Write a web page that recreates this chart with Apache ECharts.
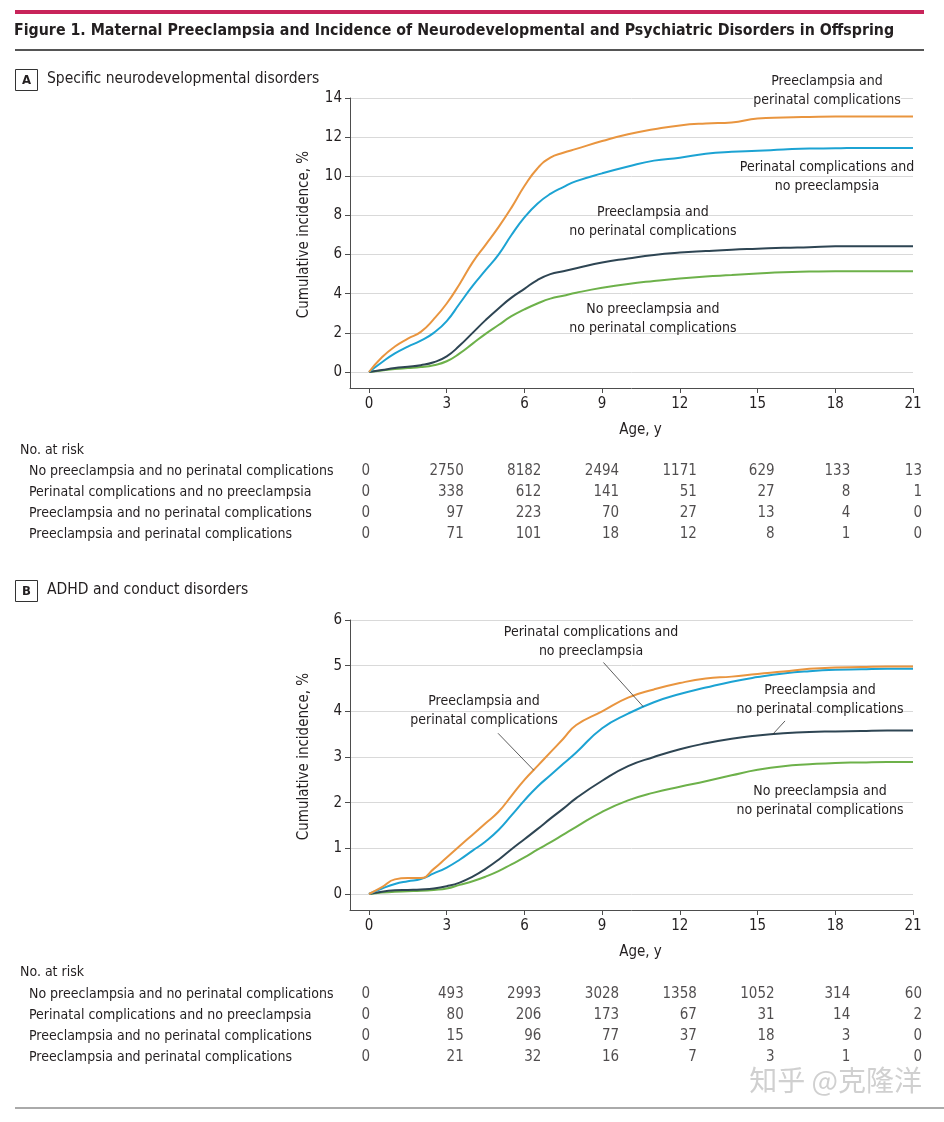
<!DOCTYPE html>
<html>
<head>
<meta charset="utf-8">
<script src="https://cdn.jsdelivr.net/npm/echarts@6/dist/echarts.min.js"></script>
<style>
html,body{margin:0;padding:0;background:#fff;}
#chart{width:944px;height:1122px;}
</style>
</head>
<body>
<div id="chart"></div>
<script>
// ---------- data ----------
const ages = [0,0.5,1,1.5,2,2.5,3,3.5,4,4.5,5,5.5,6,6.5,7,7.5,8,9,10,11,12,13,14,15,16,17,18,19,20,21];

// Panel A: specific neurodevelopmental disorders (cumulative incidence, %)
const aPEandPC   = [0,0.75,1.3,1.7,2.05,2.7,3.5,4.5,5.6,6.5,7.4,8.4,9.5,10.4,10.95,11.2,11.4,11.8,12.15,12.4,12.6,12.7,12.75,12.95,13.0,13.03,13.05,13.05,13.05,13.05];
const aPCnoPE    = [0,0.5,0.95,1.3,1.6,2.0,2.6,3.5,4.4,5.2,6.0,7.0,7.9,8.6,9.1,9.45,9.75,10.15,10.5,10.8,10.95,11.15,11.25,11.3,11.37,11.42,11.43,11.45,11.45,11.45];
const aPEnoPC    = [0,0.1,0.2,0.27,0.35,0.5,0.8,1.35,2.0,2.65,3.25,3.8,4.25,4.7,5.0,5.15,5.3,5.6,5.8,5.98,6.1,6.18,6.25,6.3,6.35,6.38,6.42,6.42,6.42,6.42];
const aNoPEnoPC  = [0,0.08,0.15,0.2,0.25,0.35,0.55,0.95,1.45,1.95,2.4,2.85,3.2,3.5,3.75,3.9,4.05,4.3,4.5,4.65,4.78,4.88,4.95,5.03,5.1,5.13,5.15,5.15,5.15,5.15];

// Panel B: ADHD and conduct disorders
const bPEandPC   = [0,0.15,0.32,0.35,0.35,0.55,0.8,1.05,1.3,1.55,1.8,2.15,2.5,2.8,3.1,3.4,3.7,4.0,4.3,4.48,4.62,4.72,4.76,4.82,4.87,4.93,4.96,4.97,4.98,4.98];
const bPCnoPE    = [0,0.12,0.22,0.28,0.33,0.45,0.58,0.75,0.95,1.15,1.4,1.72,2.05,2.35,2.6,2.85,3.1,3.63,3.95,4.2,4.38,4.52,4.65,4.75,4.83,4.88,4.91,4.92,4.93,4.93];
const bPEnoPC    = [0,0.05,0.08,0.09,0.1,0.12,0.17,0.25,0.38,0.55,0.75,0.98,1.2,1.42,1.65,1.87,2.1,2.48,2.8,3.0,3.17,3.3,3.4,3.47,3.52,3.55,3.56,3.57,3.58,3.58];
const bNoPEnoPC  = [0,0.03,0.05,0.06,0.07,0.09,0.12,0.2,0.28,0.38,0.5,0.65,0.8,0.97,1.13,1.3,1.47,1.8,2.05,2.22,2.35,2.47,2.6,2.72,2.8,2.84,2.87,2.88,2.89,2.89];

// tick labels
const xTicks  = [0,3,6,9,12,15,18,21];
const yTicksA = [0,2,4,6,8,10,12,14];
const yTicksB = [0,1,2,3,4,5,6];

// No. at risk
const groupNames = [
  'No preeclampsia and no perinatal complications',
  'Perinatal complications and no preeclampsia',
  'Preeclampsia and no perinatal complications',
  'Preeclampsia and perinatal complications'
];
const riskA_NoPEnoPC = [0,2750,8182,2494,1171,629,133,13];
const riskA_PCnoPE   = [0,338,612,141,51,27,8,1];
const riskA_PEnoPC   = [0,97,223,70,27,13,4,0];
const riskA_PEandPC  = [0,71,101,18,12,8,1,0];
const riskB_NoPEnoPC = [0,493,2993,3028,1358,1052,314,60];
const riskB_PCnoPE   = [0,80,206,173,67,31,14,2];
const riskB_PEnoPC   = [0,15,96,77,37,18,3,0];
const riskB_PEandPC  = [0,21,32,16,7,3,1,0];

// ---------- style ----------
const FONT = '"DejaVu Sans Condensed","Liberation Sans Narrow",sans-serif';
const TXT = '#231f20';
const C_ORANGE = '#E9953F', C_BLUE = '#1CA3D3', C_DARK = '#2E4553', C_GREEN = '#6DB14A';
const X_MIN = -0.7334, X_MAX = 21;
const NOTE_SIZE = 14;

const chart = echarts.init(document.getElementById('chart'), null, {renderer:'canvas'});

function zip(xs, ys){ return xs.map((x,i)=>[x, ys[i]]); }

function mainX(gi){
  return {
    type:'value', gridIndex:gi, min:X_MIN, max:X_MAX,
    name:'Age, y', nameLocation:'middle', nameGap:35,
    nameTextStyle:{fontFamily:FONT, fontSize:15, color:TXT, padding:[0,0,0,18]},
    axisLine:{show:true, onZero:false, lineStyle:{color:'#4d4d4d', width:1}},
    axisTick:{show:true, length:5, customValues:xTicks, lineStyle:{color:'#4d4d4d'}},
    axisLabel:{customValues:xTicks, margin:9, fontFamily:FONT, fontSize:15, color:TXT},
    splitLine:{show:false}
  };
}
function mainY(gi, min, max, ticks){
  return {
    type:'value', gridIndex:gi, min:min, max:max,
    name:'Cumulative incidence, %', nameLocation:'middle', nameGap:38,
    nameTextStyle:{fontFamily:FONT, fontSize:15, color:TXT, padding:[0,0,0,17]},
    axisLine:{show:true, onZero:false, lineStyle:{color:'#4d4d4d', width:1}},
    axisTick:{show:true, length:5, customValues:ticks, lineStyle:{color:'#4d4d4d'}},
    axisLabel:{customValues:ticks, margin:8, fontFamily:FONT, fontSize:15, color:TXT},
    splitLine:{show:true, lineStyle:{color:'#d9d9d9', width:1}}
  };
}
function tableX(gi){
  return {type:'value', gridIndex:gi, min:X_MIN, max:X_MAX, show:false};
}
function tableY(gi){
  return {
    type:'category', gridIndex:gi, data:groupNames, inverse:true,
    axisLine:{show:false}, axisTick:{show:false}, splitLine:{show:false},
    axisLabel:{align:'left', margin:321, fontFamily:FONT, fontSize:14, color:TXT}
  };
}
function riskSeries(gi, rows){
  const data = [];
  rows.forEach((row, r)=>{
    row.forEach((n, c)=>{
      const off = c===0 ? 1 : (c===xTicks.length-1 ? 9 : (c===xTicks.length-2 ? 15 : 17));
      data.push({value:[xTicks[c], r, n], label:{offset:[off,0]}});
    });
  });
  return {
    type:'scatter', xAxisIndex:gi, yAxisIndex:gi, symbolSize:1,
    itemStyle:{color:'rgba(0,0,0,0)'}, silent:true,
    label:{show:true, position:'inside', align:'right', fontFamily:FONT, fontSize:15, color:TXT,
      formatter:p=>String(p.value[2])},
    data:data
  };
}
function lineSeries(gi, ys, color, name, extra){
  return Object.assign({
    type:'line', name:name, xAxisIndex:gi, yAxisIndex:gi,
    data:zip(ages, ys), showSymbol:false, smooth:0.5,
    lineStyle:{color:color, width:2}, itemStyle:{color:color}, z:3
  }, extra||{});
}
function note(coord, text){
  return {coord:coord, symbolSize:0,
    label:{show:true, position:'inside', formatter:text, fontFamily:FONT, fontSize:NOTE_SIZE,
      color:TXT, lineHeight:19, align:'center'}};
}
function mp(list){ return {symbol:'circle', symbolSize:0, silent:true, data:list}; }
function leader(a, b){
  return {symbol:'none', silent:true, label:{show:false},
    lineStyle:{color:'#333', width:0.8, type:'solid'},
    data:[[{coord:a},{coord:b}]]};
}

const decor = [
  {type:'rect', shape:{x:15, y:10, width:909, height:4}, style:{fill:'#C8245A'}},
  {type:'rect', shape:{x:15, y:49, width:909, height:2}, style:{fill:'#555'}},
  {type:'rect', shape:{x:15, y:1107, width:929, height:2}, style:{fill:'#aaa'}}
];

const option = {
  animation:false,
  backgroundColor:'#fff',
  textStyle:{fontFamily:FONT},
  title:[
    {text:'Figure 1. Maternal Preeclampsia and Incidence of Neurodevelopmental and Psychiatric Disorders in Offspring',
     left:14, top:23, padding:0, textStyle:{fontFamily:FONT, fontSize:15.8, fontWeight:'bold', color:'#231f20'}},
    {text:'A', left:15, top:69, padding:[5,7,4,7], borderColor:'#333', borderWidth:1,
     textStyle:{fontFamily:FONT, fontSize:13, fontWeight:'bold', color:TXT}},
    {text:'Specific neurodevelopmental disorders', left:47, top:71, padding:0,
     textStyle:{fontFamily:FONT, fontSize:15.5, fontWeight:'normal', color:TXT}},
    {text:'No. at risk', left:20, top:443, padding:0,
     textStyle:{fontFamily:FONT, fontSize:14, fontWeight:'normal', color:TXT}},
    {text:'B', left:15, top:580, padding:[5,7,4,7], borderColor:'#333', borderWidth:1,
     textStyle:{fontFamily:FONT, fontSize:13, fontWeight:'bold', color:TXT}},
    {text:'ADHD and conduct disorders', left:47, top:582, padding:0,
     textStyle:{fontFamily:FONT, fontSize:15.5, fontWeight:'normal', color:TXT}},
    {text:'No. at risk', left:20, top:965, padding:0,
     textStyle:{fontFamily:FONT, fontSize:14, fontWeight:'normal', color:TXT}},
    {text:'知乎 @克隆洋', right:22, top:1066, padding:0,
     textStyle:{fontFamily:'"Noto Sans CJK SC",sans-serif', fontSize:28, fontWeight:'normal', color:'#d0d0d0'}}
  ],
  graphic:decor,
  grid:[
    {left:350, right:31, top:98, height:290},
    {left:350, right:31, top:460.5, height:84},
    {left:350, right:31, top:620, height:290},
    {left:350, right:31, top:983.5, height:84}
  ],
  xAxis:[mainX(0), tableX(1), mainX(2), tableX(3)],
  yAxis:[mainY(0, -0.8175, 14, yTicksA), tableY(1), mainY(2, -0.3504, 6, yTicksB), tableY(3)],
  series:[
    lineSeries(0, aNoPEnoPC, C_GREEN, 'No preeclampsia and no perinatal complications',
      {markPoint:mp([note([10.96, 2.73], 'No preeclampsia and\nno perinatal complications')])}),
    lineSeries(0, aPEnoPC, C_DARK, 'Preeclampsia and no perinatal complications',
      {markPoint:mp([note([10.96, 7.69], 'Preeclampsia and\nno perinatal complications')])}),
    lineSeries(0, aPCnoPE, C_BLUE, 'Perinatal complications and no preeclampsia',
      {markPoint:mp([note([17.68, 9.99], 'Perinatal complications and\nno preeclampsia')])}),
    lineSeries(0, aPEandPC, C_ORANGE, 'Preeclampsia and perinatal complications'),

    riskSeries(1, [riskA_NoPEnoPC, riskA_PCnoPE, riskA_PEnoPC, riskA_PEandPC]),

    lineSeries(2, bNoPEnoPC, C_GREEN, 'No preeclampsia and no perinatal complications',
      {markPoint:mp([note([17.41, 2.03], 'No preeclampsia and\nno perinatal complications')])}),
    lineSeries(2, bPEnoPC, C_DARK, 'Preeclampsia and no perinatal complications',
      {markPoint:mp([note([17.41, 4.26], 'Preeclampsia and\nno perinatal complications')]),
       markLine:leader([16.06, 3.79], [15.59, 3.50])}),
    lineSeries(2, bPCnoPE, C_BLUE, 'Perinatal complications and no preeclampsia',
      {markPoint:mp([note([8.57, 5.52], 'Perinatal complications and\nno preeclampsia')]),
       markLine:leader([9.05, 5.07], [10.59, 4.10])}),
    lineSeries(2, bPEandPC, C_ORANGE, 'Preeclampsia and perinatal complications',
      {markPoint:mp([note([4.44, 4.02], 'Preeclampsia and\nperinatal complications')]),
       markLine:leader([4.98, 3.52], [6.36, 2.71])}),

    riskSeries(3, [riskB_NoPEnoPC, riskB_PCnoPE, riskB_PEnoPC, riskB_PEandPC])
  ]
};
chart.setOption(option);

// annotation that sits above the top of panel A's value range: placed through the axis scales
const topNote = chart.convertToPixel({gridIndex:0}, [17.68, 14.36]);
chart.setOption({
  graphic:decor.concat([
    {type:'text', x:topNote[0], y:topNote[1], z:10,
     style:{text:'Preeclampsia and\nperinatal complications', fill:TXT, font:NOTE_SIZE + 'px ' + FONT,
       align:'center', verticalAlign:'middle', lineHeight:19, backgroundColor:'#fff'}}
  ])
});
</script>
</body>
</html>
